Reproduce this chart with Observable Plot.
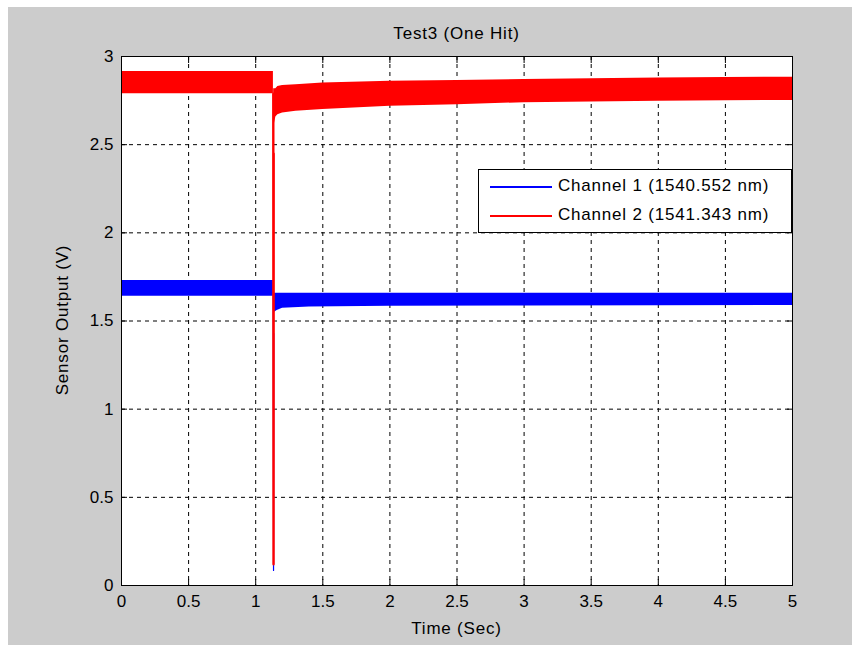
<!DOCTYPE html>
<html>
<head>
<meta charset="utf-8">
<script src="https://cdn.jsdelivr.net/npm/d3@7"></script>
<script src="https://cdn.jsdelivr.net/npm/@observablehq/plot@0.6"></script>
<style>
  html, body { margin: 0; padding: 0; background: #ffffff; }
  #wrap { position: relative; width: 861px; height: 652px; overflow: hidden; }
  #fig { position: absolute; left: 8px; top: 7px; width: 844px; height: 638px; background: #cccccc; }
  .txt { position: absolute; font-family: "Liberation Sans", Arial, Helvetica, sans-serif; font-size: 17px; letter-spacing: 0.8px; color: #000; white-space: nowrap; }
  #title { left: 121px; width: 671px; top: 24px; text-align: center; }
  #xlabel { left: 121px; width: 671px; top: 619px; text-align: center; }
  #ylabel { left: 63px; top: 320px; transform: translate(-50%, -50%) rotate(-90deg); }
  #chart { position: absolute; left: 0; top: 0; }
  #legend { position: absolute; left: 478px; top: 169px; width: 312px; height: 62px; background: #fff; border: 1px solid #000; }
  .lrow { position: absolute; left: 0; height: 20px; }
  .lline { position: absolute; left: 11px; width: 62px; height: 1.5px; top: 0; }
  .ltext { position: absolute; left: 79px; top: -10px; }
</style>
</head>
<body>
<div id="wrap">
  <div id="fig"></div>
  <div id="chart"></div>
  <div id="title" class="txt">Test3 (One Hit)</div>
  <div id="xlabel" class="txt">Time (Sec)</div>
  <div id="ylabel" class="txt">Sensor Output (V)</div>
  <div id="legend"></div>
</div>
<script>
// ---- Data ----
const xTicks = [0, 0.5, 1, 1.5, 2, 2.5, 3, 3.5, 4, 4.5, 5];
const yTicks = [0, 0.5, 1, 1.5, 2, 2.5, 3];

const seriesNames = ["Channel 1 (1540.552 nm)", "Channel 2 (1541.343 nm)"];
const seriesColors = ["#0000ff", "#ff0000"];

// Channel 1 (blue) noise band envelope, before the hit
const bluePreT  = [0, 0.5, 1.0, 1.132];
const bluePreLo = [1.64, 1.64, 1.64, 1.64];
const bluePreHi = [1.73, 1.73, 1.73, 1.73];
// Channel 1 band after the hit
const bluePostT  = [1.134, 1.14, 1.16, 1.2, 1.4, 2.0, 3.0, 4.0, 5.0];
const bluePostLo = [1.43, 1.55, 1.56, 1.572, 1.579, 1.583, 1.585, 1.587, 1.588];
const bluePostHi = [1.658, 1.658, 1.658, 1.658, 1.658, 1.658, 1.658, 1.658, 1.658];
// Channel 1 impact spike
const blueDropT = [1.131, 1.133, 1.134];
const blueDropV = [1.64, 0.085, 1.43];

// Channel 2 (red) noise band envelope, before the hit
const redPreT  = [0, 0.5, 1.0, 1.132];
const redPreLo = [2.789, 2.789, 2.789, 2.789];
const redPreHi = [2.915, 2.915, 2.915, 2.915];
// Channel 2 band after the hit
const redPostT  = [1.134, 1.14, 1.15, 1.165, 1.2, 1.3, 1.5, 2.0, 2.5, 3.0, 3.5, 4.0, 4.5, 5.0];
const redPostLo = [2.45, 2.62, 2.657, 2.67, 2.68, 2.69, 2.70, 2.718, 2.727, 2.738, 2.742, 2.746, 2.749, 2.751];
const redPostHi = [2.817, 2.817, 2.817, 2.83, 2.835, 2.84, 2.85, 2.859, 2.864, 2.87, 2.874, 2.878, 2.881, 2.883];
// Channel 2 impact spike
const redDropT = [1.131, 1.133, 1.134];
const redDropV = [2.789, 0.12, 2.45];

// ---- Build tables ----
const band = (T, lo, hi) => T.map((t, i) => ({t, lo: lo[i], hi: hi[i]}));
const line = (T, v) => T.map((t, i) => ({t, v: v[i]}));

const fmt = d => String(d);
const font = '"Liberation Sans", Arial, Helvetica, sans-serif';

const chart = Plot.plot({
  width: 861,
  height: 652,
  marginLeft: 121,
  marginRight: 69,
  marginTop: 56,
  marginBottom: 67,
  x: {domain: [0, 5], ticks: xTicks},
  y: {domain: [0, 3], ticks: yTicks},
  style: {background: "transparent", fontFamily: font, fontSize: "17px", color: "#000", overflow: "visible"},
  marks: [
    Plot.frame({fill: "#ffffff", stroke: "none"}),
    Plot.gridX(xTicks, {stroke: "#000", strokeOpacity: 1, strokeDasharray: "4,4", strokeWidth: 1}),
    Plot.gridY(yTicks, {stroke: "#000", strokeOpacity: 1, strokeDasharray: "4,4", strokeWidth: 1}),
    // Channel 1
    Plot.areaY(band(bluePreT, bluePreLo, bluePreHi), {x: "t", y1: "lo", y2: "hi", fill: seriesColors[0]}),
    Plot.areaY(band(bluePostT, bluePostLo, bluePostHi), {x: "t", y1: "lo", y2: "hi", fill: seriesColors[0]}),
    Plot.lineY(line(blueDropT, blueDropV), {x: "t", y: "v", stroke: seriesColors[0], strokeWidth: 1.2}),
    // Channel 2
    Plot.areaY(band(redPreT, redPreLo, redPreHi), {x: "t", y1: "lo", y2: "hi", fill: seriesColors[1]}),
    Plot.areaY(band(redPostT, redPostLo, redPostHi), {x: "t", y1: "lo", y2: "hi", fill: seriesColors[1]}),
    Plot.lineY(line(redDropT, redDropV), {x: "t", y: "v", stroke: seriesColors[1], strokeWidth: 2.4}),
    Plot.frame({stroke: "#000", strokeWidth: 1}),
    Plot.axisX(xTicks, {anchor: "bottom", tickSize: -6, tickPadding: 15, tickFormat: fmt, label: null, fill: "#000"}),
    Plot.axisX(xTicks, {anchor: "top", tickSize: -6, tickFormat: () => "", label: null}),
    Plot.axisY(yTicks, {anchor: "left", tickSize: -6, tickPadding: 14, tickFormat: fmt, label: null, fill: "#000"}),
    Plot.axisY(yTicks, {anchor: "right", tickSize: -6, tickFormat: () => "", label: null})
  ]
});
document.getElementById("chart").appendChild(chart);

// ---- Legend ----
const legend = document.getElementById("legend");
seriesNames.forEach((name, i) => {
  const row = document.createElement("div");
  row.className = "lrow";
  row.style.top = (16 + i * 29) + "px";
  const ln = document.createElement("div");
  ln.className = "lline";
  ln.style.background = seriesColors[i];
  const tx = document.createElement("div");
  tx.className = "txt ltext";
  tx.textContent = name;
  row.appendChild(ln);
  row.appendChild(tx);
  legend.appendChild(row);
});
</script>
</body>
</html>
